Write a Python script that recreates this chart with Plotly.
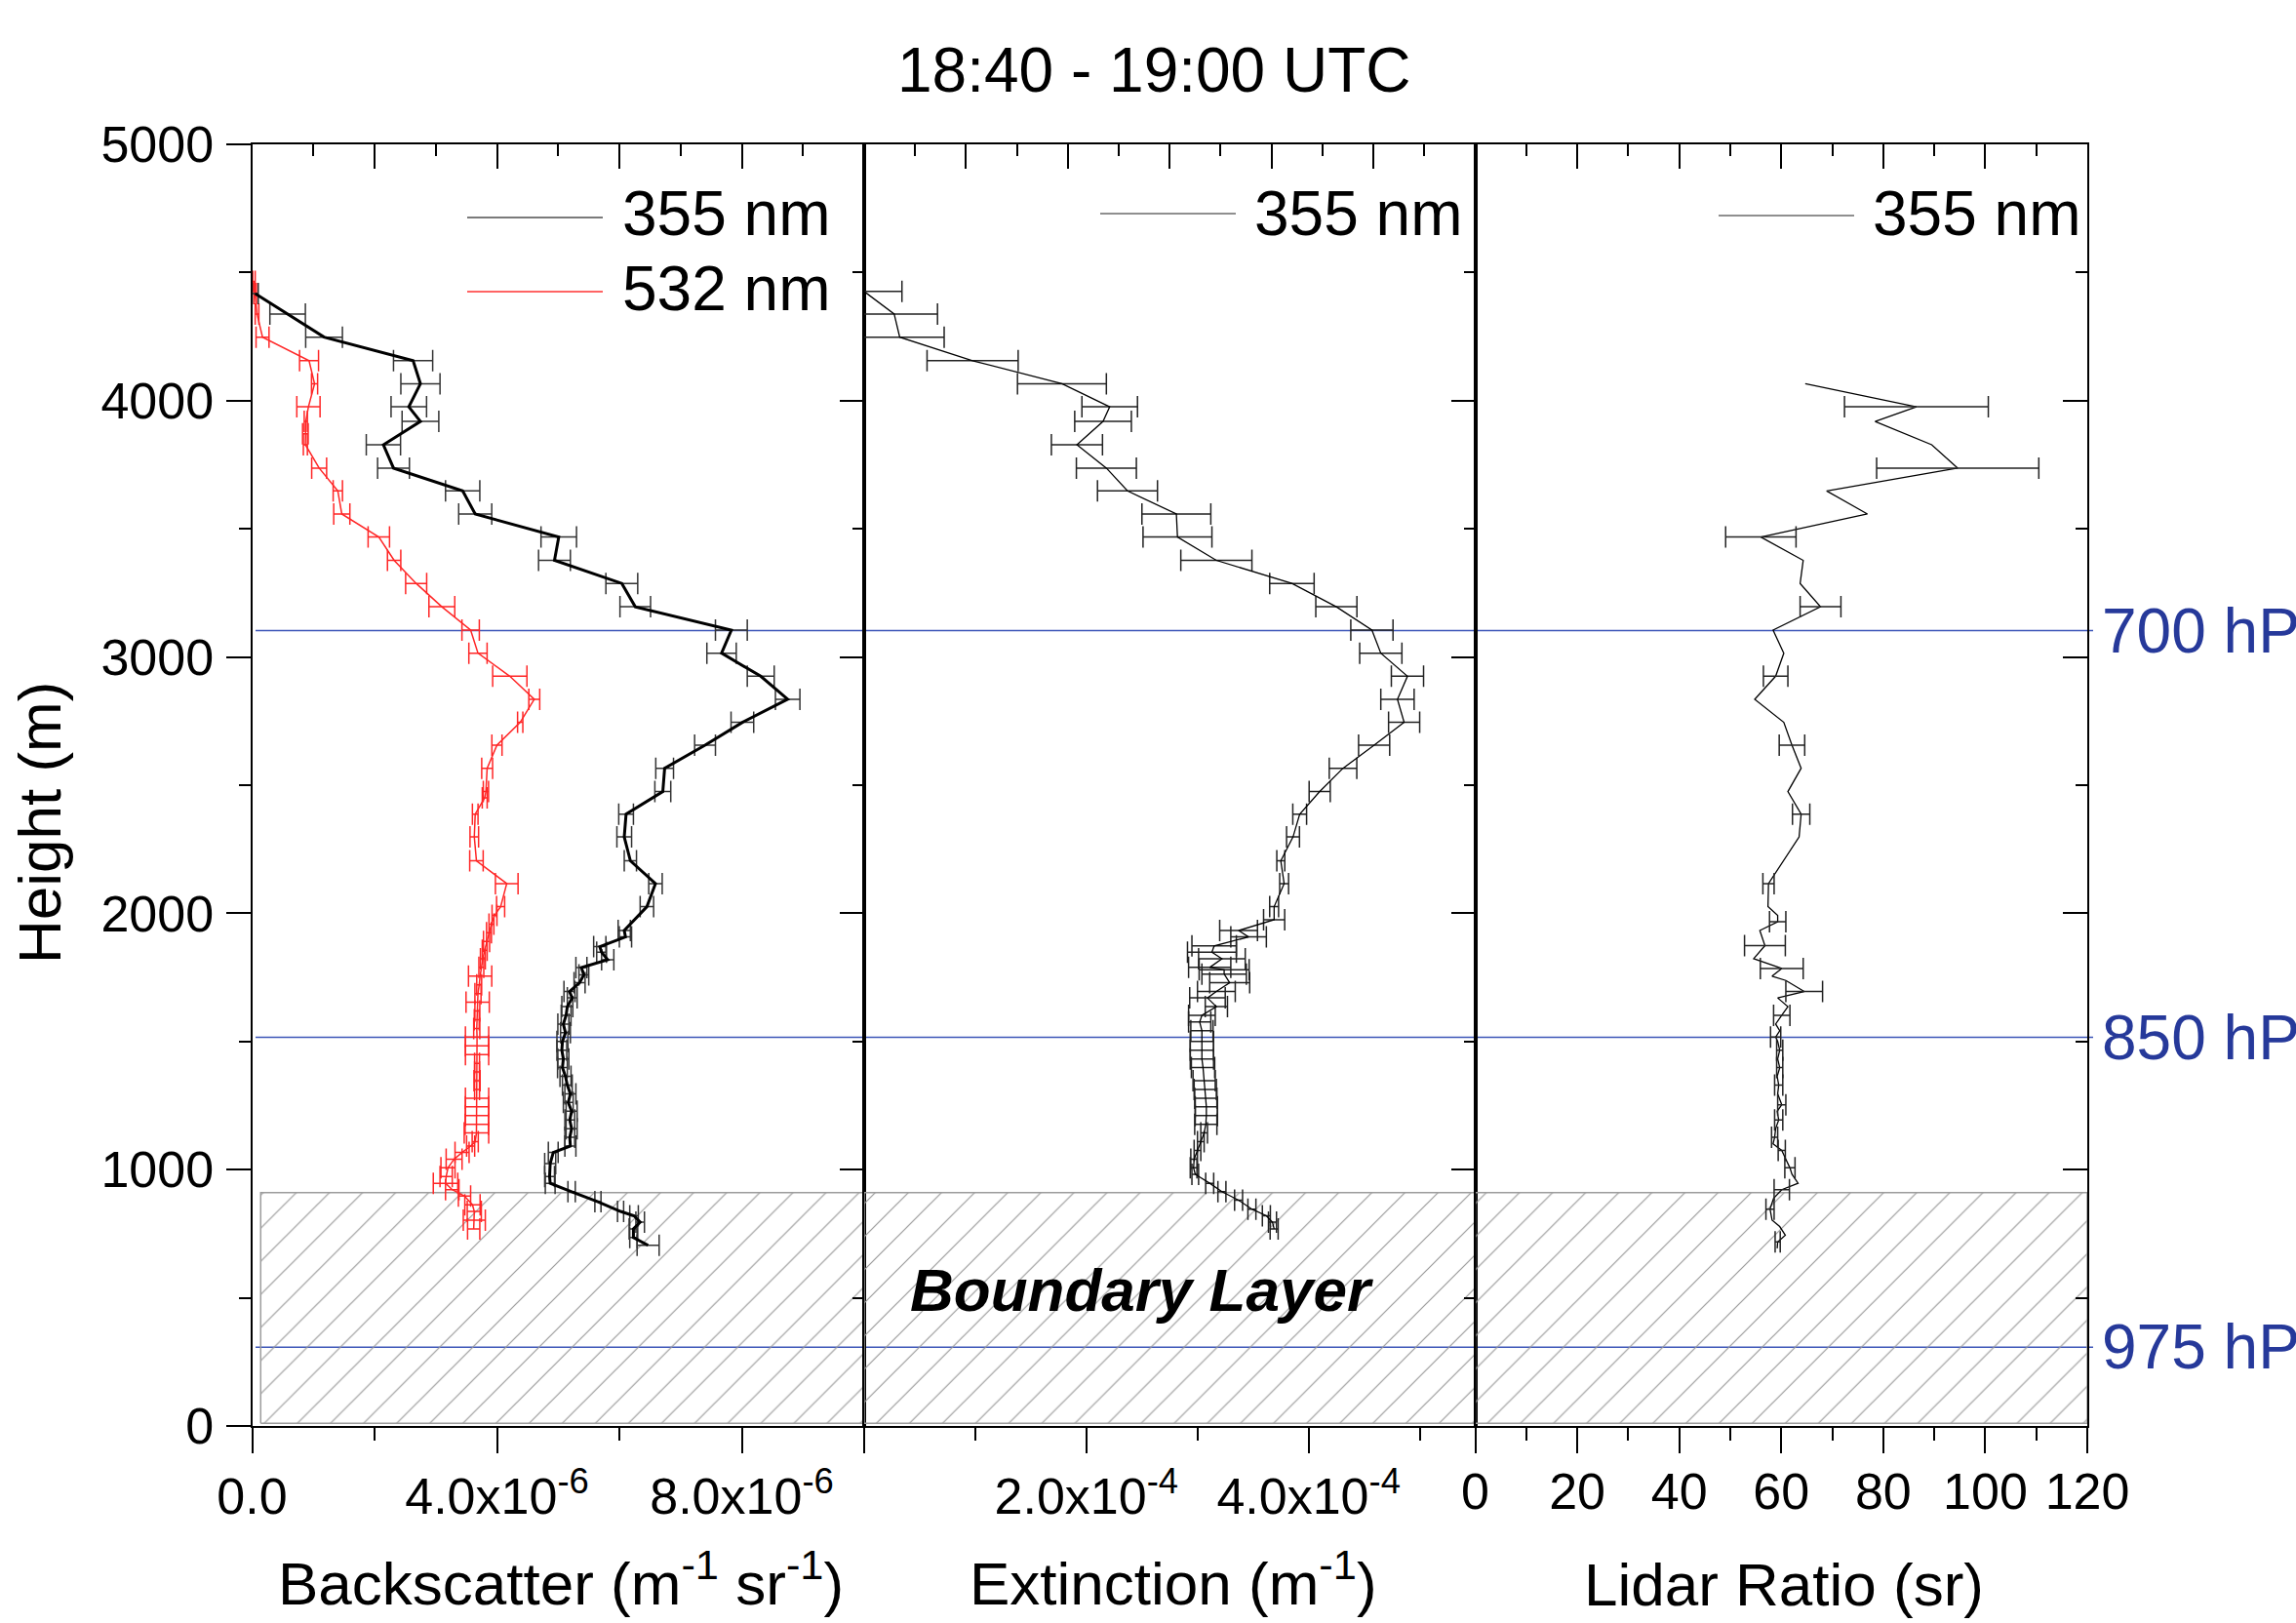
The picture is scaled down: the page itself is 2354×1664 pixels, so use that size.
import plotly.graph_objects as go

W, H = 2354, 1664
FONT = "Liberation Sans, Arial, Helvetica, sans-serif"

# ---------------- data ----------------
# Backscatter 355 nm (values in 1e-6 m^-1 sr^-1)
BSC355_H = [4418, 4338, 4248, 4156, 4066, 3976, 3919, 3828, 3737, 3648, 3558, 3468, 3377, 3287,
            3196, 3105, 3015, 2925, 2835, 2745, 2656, 2566, 2475, 2387, 2298, 2205, 2116, 2026,
            1933, 1908, 1870, 1848, 1819, 1788, 1760, 1729, 1695, 1670, 1636, 1602, 1568, 1534,
            1500, 1466, 1432, 1398, 1364, 1330, 1296, 1262, 1228, 1194, 1160, 1126, 1092, 1067,
            1024, 973, 947, 914, 875, 837, 820, 795, 769, 735, 705]
BSC355_V = [0.05, 0.58, 1.175, 2.63, 2.75, 2.56, 2.75, 2.145, 2.31, 3.44, 3.645, 5.01, 4.94, 6.04,
            6.26, 7.83, 7.67, 8.31, 8.75, 8.01, 7.40, 6.74, 6.71, 6.11, 6.08, 6.18, 6.59, 6.45,
            6.08, 6.10, 5.68, 5.71, 5.81, 5.38, 5.42, 5.35, 5.185, 5.23, 5.15, 5.13, 5.085, 5.12,
            5.07, 5.06, 5.085, 5.07, 5.12, 5.15, 5.20, 5.165, 5.22, 5.19, 5.22, 5.19, 5.20, 4.92,
            4.87, 4.86, 4.87, 5.22, 5.65, 6.02, 6.24, 6.34, 6.23, 6.23, 6.47]
BSC355_E = [0.05, 0.29, 0.30, 0.32, 0.32, 0.29, 0.30, 0.28, 0.26, 0.28, 0.27, 0.29, 0.26, 0.26,
            0.25, 0.26, 0.24, 0.22, 0.20, 0.185, 0.17, 0.145, 0.13, 0.12, 0.12, 0.10, 0.11, 0.11,
            0.10, 0.10, 0.10, 0.08, 0.10, 0.09, 0.08, 0.09, 0.09, 0.08, 0.09, 0.08, 0.09, 0.08,
            0.09, 0.08, 0.09, 0.08, 0.09, 0.08, 0.09, 0.08, 0.09, 0.08, 0.09, 0.08, 0.09, 0.08,
            0.09, 0.08, 0.08, 0.06, 0.05, 0.05, 0.07, 0.07, 0.07, 0.06, 0.18]

# Backscatter 532 nm (values in 1e-6 m^-1 sr^-1)
BSC532_H = [4465, 4418, 4338, 4248, 4156, 4066, 3976, 3919, 3871, 3828, 3737, 3648, 3558, 3468,
            3377, 3287, 3196, 3105, 3015, 2925, 2835, 2745, 2656, 2566, 2475, 2451, 2387, 2298,
            2205, 2116, 2026, 1992, 1958, 1924, 1890, 1856, 1823, 1789, 1755, 1721, 1687, 1653,
            1619, 1585, 1551, 1517, 1483, 1449, 1415, 1381, 1347, 1313, 1279, 1245, 1211, 1177,
            1143, 1109, 1092, 1067, 1041, 1007, 973, 947, 922, 897, 863, 837, 803, 769]
BSC532_V = [0.03, 0.05, 0.08, 0.17, 0.93, 1.02, 0.92, 0.877, 0.87, 0.87, 1.095, 1.40, 1.465, 2.07,
            2.32, 2.68, 3.10, 3.57, 3.69, 4.21, 4.61, 4.38, 4.00, 3.84, 3.82, 3.80, 3.645, 3.63,
            3.665, 4.16, 4.06, 3.96, 3.91, 3.87, 3.83, 3.80, 3.77, 3.745, 3.725, 3.71, 3.69, 3.685,
            3.68, 3.67, 3.67, 3.675, 3.675, 3.675, 3.675, 3.675, 3.675, 3.675, 3.675, 3.675, 3.675, 3.67,
            3.665, 3.645, 3.57, 3.43, 3.30, 3.20, 3.17, 3.16, 3.27, 3.47, 3.60, 3.63, 3.63, 3.62]
BSC532_E = [0.02, 0.02, 0.03, 0.106, 0.155, 0.05, 0.19, 0.026, 0.046, 0.033, 0.122, 0.076, 0.132, 0.175,
            0.109, 0.172, 0.211, 0.142, 0.149, 0.28, 0.089, 0.043, 0.083, 0.089, 0.043, 0.04, 0.046, 0.07,
            0.11, 0.185, 0.066, 0.04, 0.04, 0.04, 0.05, 0.04, 0.04, 0.04, 0.19, 0.04, 0.05, 0.19,
            0.04, 0.04, 0.05, 0.19, 0.19, 0.19, 0.04, 0.04, 0.05, 0.04, 0.19, 0.19, 0.19, 0.19,
            0.20, 0.05, 0.066, 0.115, 0.13, 0.115, 0.10, 0.20, 0.11, 0.10, 0.125, 0.115, 0.18, 0.10]

# Extinction 355 nm (values in 1e-4 m^-1)
EXT355_H = [4426, 4338, 4248, 4156, 4066, 3976, 3919, 3828, 3737, 3648, 3558, 3468, 3377, 3287,
            3196, 3105, 3015, 2925, 2835, 2745, 2656, 2566, 2475, 2387, 2298, 2205, 2116, 2026,
            1975, 1933, 1908, 1873, 1848, 1823, 1789, 1780, 1763, 1729, 1695, 1670, 1636, 1602,
            1576, 1542, 1500, 1466, 1432, 1398, 1347, 1313, 1279, 1245, 1211, 1177, 1143, 1109,
            1075, 1041, 1007, 982, 947, 914, 881, 846, 820, 795, 769]
EXT355_V = [0.00, 0.27, 0.32, 0.976, 1.78, 2.21, 2.15, 1.915, 2.18, 2.37, 2.81, 2.82, 3.17, 3.85,
            4.25, 4.57, 4.65, 4.89, 4.80, 4.86, 4.59, 4.31, 4.10, 3.92, 3.86, 3.75, 3.78, 3.69,
            3.69, 3.37, 3.46, 3.15, 3.13, 3.22, 3.11, 3.24, 3.24, 3.29, 3.17, 3.09, 3.17, 3.04,
            3.02, 3.04, 3.04, 3.04, 3.04, 3.05, 3.06, 3.07, 3.075, 3.08, 3.08, 3.075, 3.06, 3.03,
            3.00, 2.97, 2.965, 2.98, 3.11, 3.22, 3.37, 3.49, 3.62, 3.675, 3.69]
EXT355_E = [0.34, 0.39, 0.40, 0.41, 0.40, 0.25, 0.255, 0.23, 0.27, 0.27, 0.31, 0.31, 0.32, 0.20,
            0.185, 0.19, 0.19, 0.145, 0.15, 0.14, 0.14, 0.124, 0.095, 0.062, 0.058, 0.036, 0.04, 0.04,
            0.095, 0.17, 0.16, 0.20, 0.22, 0.21, 0.19, 0.225, 0.20, 0.18, 0.17, 0.16, 0.10, 0.12,
            0.10, 0.10, 0.105, 0.105, 0.105, 0.105, 0.10, 0.10, 0.10, 0.10, 0.10, 0.10, 0.03, 0.03,
            0.03, 0.03, 0.03, 0.03, 0.036, 0.036, 0.036, 0.036, 0.036, 0.036, 0.036]

# Lidar ratio 355 nm (sr); 0 error = no error bar drawn
LR355_H = [4066, 3976, 3919, 3828, 3737, 3648, 3558, 3468, 3377, 3287, 3196, 3105, 3015, 2925,
           2835, 2745, 2656, 2566, 2475, 2387, 2298, 2205, 2116, 2026, 1992, 1967, 1933, 1874,
           1823, 1785, 1755, 1738, 1695, 1670, 1636, 1602, 1568, 1542, 1517, 1500, 1466, 1432,
           1398, 1364, 1330, 1296, 1253, 1228, 1194, 1160, 1126, 1101, 1075, 1041, 1007, 982,
           947, 922, 888, 846, 803, 778, 744, 718, 693]
LR355_V = [64.7, 86.5, 78.4, 89.5, 94.6, 68.9, 76.9, 56.0, 64.3, 63.7, 67.7, 58.4, 60.5, 58.9,
           54.8, 60.5, 62.1, 63.9, 61.3, 63.9, 63.5, 60.5, 57.5, 57.4, 59.3, 59.3, 55.8, 56.8,
           54.6, 60.1, 58.2, 60.9, 64.5, 59.3, 61.3, 60.1, 58.9, 59.7, 58.9, 59.3, 59.7, 59.3,
           59.7, 59.2, 59.5, 59.3, 60.1, 59.2, 59.5, 58.9, 58.7, 58.4, 60.1, 60.9, 61.7, 62.1,
           63.3, 60.1, 58.5, 57.8, 58.2, 59.7, 60.8, 59.3, 59.2]
LR355_E = [0, 14.1, 0, 0, 15.9, 0, 0, 6.9, 0, 0, 4.0, 0, 0, 2.4,
           0, 0, 2.5, 0, 0, 1.7, 0, 0, 1.1, 0, 0, 1.6, 0, 4.0,
           0, 4.2, 0, 0, 3.6, 0, 0, 1.6, 0, 0, 1.0, 0, 0.6, 0,
           0.6, 0, 0.8, 0, 0.8, 0, 0.8, 0, 0.6, 0, 0.7, 0, 1.0, 0,
           0, 1.5, 0, 0.8, 0, 0, 0, 0.5, 0]

# Reference pressure levels (height in m)
PRESSURE_LABELS = ["700 hPa", "850 hPa", "975 hPa"]
PRESSURE_HEIGHTS = [3103, 1516, 307]

# Boundary layer (m)
BL_BOTTOM = 10
BL_TOP = 910

# Axis ranges (bottom axes) and tick labels
X_RANGES = [[0, 10], [0, 5.5], [0, 120]]
X_TOP_RANGES = [[0, 10], [0, 6], [0, 120]]
BSC_TICKVALS = [0, 4, 8]
BSC_TICKTEXT = ["0.0", "4.0x10<sup>-6</sup>", "8.0x10<sup>-6</sup>"]
EXT_TICKVALS = [0, 2, 4]
EXT_TICKTEXT = ["", "2.0x10<sup>-4</sup>", "4.0x10<sup>-4</sup>"]
LR_TICKVALS = [0, 20, 40, 60, 80, 100, 120]
Y_RANGE = [0, 5000]

# ---------------- layout helpers ----------------
def fx(p):
    return p / W


def fy(p):
    return 1 - p / H


X_DOM = [[fx(258.5), fx(886)], [fx(886), fx(1512.5)], [fx(1512.5), fx(2140)]]
Y_DOM = [fy(1462), fy(148)]

fig = go.Figure()

# boundary layer hatch in each panel
bl_left = [0.14, 0, 0]
for i in range(3):
    x0 = bl_left[i]
    x1 = X_RANGES[i][1]
    fig.add_trace(go.Scatter(
        x=[x0, x1, x1, x0, x0], y=[BL_BOTTOM, BL_BOTTOM, BL_TOP, BL_TOP, BL_BOTTOM],
        mode="lines", fill="toself", line=dict(color="#9c9c9c", width=1.5),
        fillcolor="rgba(255,255,255,0)",
        fillpattern=dict(shape="/", size=24, solidity=0.05, fgcolor="#999999",
                         bgcolor="rgba(255,255,255,0)", fillmode="replace"),
        xaxis="x" if i == 0 else f"x{i+1}", yaxis="y" if i == 0 else f"y{i+1}",
        hoverinfo="skip", showlegend=False))

ERR_W = 11
# panel 1
fig.add_trace(go.Scatter(
    x=BSC532_V, y=BSC532_H, mode="lines", line=dict(color="#ff2626", width=1.5),
    error_x=dict(type="data", array=BSC532_E, color="#ff2626", thickness=1.5, width=ERR_W),
    xaxis="x", yaxis="y", showlegend=False))
fig.add_trace(go.Scatter(
    x=BSC355_V, y=BSC355_H, mode="lines", line=dict(color="black", width=3),
    error_x=dict(type="data", array=BSC355_E, color="#333333", thickness=1.5, width=ERR_W),
    xaxis="x", yaxis="y", showlegend=False))
# panel 2
fig.add_trace(go.Scatter(
    x=EXT355_V, y=EXT355_H, mode="lines", line=dict(color="black", width=1.3),
    error_x=dict(type="data", array=EXT355_E, color="#222222", thickness=1.5, width=ERR_W),
    xaxis="x2", yaxis="y2", showlegend=False))
# panel 3
fig.add_trace(go.Scatter(
    x=LR355_V, y=LR355_H, mode="lines", line=dict(color="black", width=1.3),
    xaxis="x3", yaxis="y3", showlegend=False))
idx = [k for k, e in enumerate(LR355_E) if e > 0]
fig.add_trace(go.Scatter(
    x=[LR355_V[k] for k in idx], y=[LR355_H[k] for k in idx], mode="markers",
    marker=dict(size=1, color="rgba(0,0,0,0)"),
    error_x=dict(type="data", array=[LR355_E[k] for k in idx], color="#222222",
                 thickness=1.5, width=ERR_W),
    xaxis="x3", yaxis="y3", showlegend=False, hoverinfo="skip"))

# dummy traces so overlay axes exist
for i in range(3):
    fig.add_trace(go.Scatter(x=[X_TOP_RANGES[i][0]], y=[Y_RANGE[0]], mode="markers",
                             marker=dict(size=1, color="rgba(0,0,0,0)"),
                             xaxis=f"x{i+4}", yaxis=f"y{i+4}", showlegend=False,
                             hoverinfo="skip"))

TICKFONT = dict(family=FONT, size=52, color="black")
LW = 2


def base_axis(**kw):
    d = dict(showgrid=False, zeroline=False, showline=True, linecolor="black", linewidth=LW,
             tickcolor="black", tickwidth=LW, tickfont=TICKFONT, automargin=False)
    d.update(kw)
    return d


layout = dict(
    width=W, height=H, margin=dict(l=0, r=0, t=0, b=0),
    paper_bgcolor="white", plot_bgcolor="rgba(0,0,0,0)", showlegend=False,
)

# bottom x axes
layout["xaxis"] = base_axis(domain=X_DOM[0], range=X_RANGES[0], anchor="y", ticks="outside",
                            ticklen=26, tickmode="array", tickvals=BSC_TICKVALS,
                            ticktext=BSC_TICKTEXT, ticklabelstandoff=0,
                            minor=dict(tickmode="linear", tick0=0, dtick=2, ticks="outside",
                                       ticklen=13, tickwidth=LW, tickcolor="black"))
layout["xaxis2"] = base_axis(domain=X_DOM[1], range=X_RANGES[1], anchor="y2", ticks="outside",
                             ticklen=26, tickmode="array", tickvals=EXT_TICKVALS,
                             ticktext=EXT_TICKTEXT, ticklabelstandoff=0,
                             minor=dict(tickmode="linear", tick0=0, dtick=1, ticks="outside",
                                        ticklen=13, tickwidth=LW, tickcolor="black"))
layout["xaxis3"] = base_axis(domain=X_DOM[2], range=X_RANGES[2], anchor="y3", ticks="outside",
                             ticklen=26, tickmode="array", tickvals=LR_TICKVALS,
                             ticktext=[str(v) for v in LR_TICKVALS], ticklabelstandoff=-5,
                             minor=dict(tickmode="linear", tick0=0, dtick=10, ticks="outside",
                                        ticklen=13, tickwidth=LW, tickcolor="black"))
# top x axes
top_dticks = [(2, 1), (1, 0.5), (20, 10)]
for i in range(3):
    layout[f"xaxis{i+4}"] = base_axis(domain=X_DOM[i], range=X_TOP_RANGES[i],
                                      anchor="y" if i == 0 else f"y{i+1}",
                                      overlaying="x" if i == 0 else f"x{i+1}",
                                      side="top", ticks="inside", ticklen=25, tickmode="linear",
                                      tick0=0, dtick=top_dticks[i][0], showticklabels=False,
                                      minor=dict(tickmode="linear", tick0=0, dtick=top_dticks[i][1],
                                                 ticks="inside", ticklen=12, tickwidth=LW,
                                                 tickcolor="black"))
# left y axes
layout["yaxis"] = base_axis(domain=Y_DOM, range=Y_RANGE, anchor="x", ticks="outside", ticklen=25,
                            tickmode="linear", tick0=0, dtick=1000, ticklabelstandoff=2,
                            minor=dict(tickmode="linear", tick0=0, dtick=500, ticks="outside",
                                       ticklen=12, tickwidth=LW, tickcolor="black"))
for i in (1, 2):
    layout[f"yaxis{i+1}"] = base_axis(domain=Y_DOM, range=Y_RANGE, anchor=f"x{i+1}", ticks="",
                                      showticklabels=False)
# right y axes
for i in range(3):
    layout[f"yaxis{i+4}"] = base_axis(domain=Y_DOM, range=Y_RANGE,
                                      anchor="x" if i == 0 else f"x{i+1}",
                                      overlaying="y" if i == 0 else f"y{i+1}",
                                      side="right", ticks="inside", ticklen=25,
                                      tickmode="linear", tick0=0, dtick=1000,
                                      showticklabels=False,
                                      minor=dict(tickmode="linear", tick0=0, dtick=500,
                                                 ticks="inside", ticklen=12, tickwidth=LW,
                                                 tickcolor="black"))

shapes = []
annotations = []
# pressure level lines + labels
for lab, h in zip(PRESSURE_LABELS, PRESSURE_HEIGHTS):
    shapes.append(dict(type="line", xref="paper", yref="y", x0=fx(262), x1=fx(2146), y0=h, y1=h,
                       line=dict(color="#3d56b8", width=1.5), layer="below"))
    annotations.append(dict(text=lab, xref="paper", yref="y", x=fx(2153), y=h, xanchor="left",
                            yanchor="middle", showarrow=False,
                            font=dict(family=FONT, size=64, color="#26399a")))

# legends (drawn manually)
LEGEND_FONT = dict(family=FONT, size=64, color="black")
legend_items = [
    (479, 618, 223, 636, 219, "355 nm", "#7a7a7a", 2),
    (479, 618, 299, 636, 296, "532 nm", "#ff3030", 1.5),
    (1128, 1267, 219, 1284, 219, "355 nm", "#6a6a6a", 1.5),
    (1762, 1901, 221, 1918, 219, "355 nm", "#6a6a6a", 1.5),
]
for x0, x1, yl, xt, yt, txt, col, wd in legend_items:
    shapes.append(dict(type="line", xref="paper", yref="paper", x0=fx(x0), x1=fx(x1),
                       y0=fy(yl), y1=fy(yl), line=dict(color=col, width=wd)))
    annotations.append(dict(text=txt, xref="paper", yref="paper", x=fx(xt), y=fy(yt),
                            xanchor="left", yanchor="middle", showarrow=False, font=LEGEND_FONT))

# title and axis titles
annotations += [
    dict(text="18:40 - 19:00 UTC", xref="paper", yref="paper", x=fx(1183), y=fy(72),
         xanchor="center", yanchor="middle", showarrow=False,
         font=dict(family=FONT, size=64, color="black")),
    dict(text="Height (m)", xref="paper", yref="paper", x=fx(40), y=fy(844), textangle=-90,
         xanchor="center", yanchor="middle", showarrow=False,
         font=dict(family=FONT, size=62, color="black")),
    dict(text="Backscatter (m<sup>-1</sup> sr<sup>-1</sup>)", xref="paper", yref="paper",
         x=fx(575), y=fy(1619), xanchor="center", yanchor="middle", showarrow=False,
         font=dict(family=FONT, size=62, color="black")),
    dict(text="Extinction (m<sup>-1</sup>)", xref="paper", yref="paper",
         x=fx(1203), y=fy(1619), xanchor="center", yanchor="middle", showarrow=False,
         font=dict(family=FONT, size=62, color="black")),
    dict(text="Lidar Ratio (sr)", xref="paper", yref="paper",
         x=fx(1829), y=fy(1624), xanchor="center", yanchor="middle", showarrow=False,
         font=dict(family=FONT, size=62, color="black")),
    dict(text="<b><i>Boundary Layer</i></b>", xref="paper", yref="paper",
         x=fx(1170), y=fy(1322), xanchor="center", yanchor="middle", showarrow=False,
         font=dict(family=FONT, size=62, color="black")),
]

layout["shapes"] = shapes
layout["annotations"] = annotations
fig.update_layout(**layout)

fig.write_html("out.html", config={"displayModeBar": False},
               post_script="document.body.style.margin='0';document.body.style.overflow='hidden';")
